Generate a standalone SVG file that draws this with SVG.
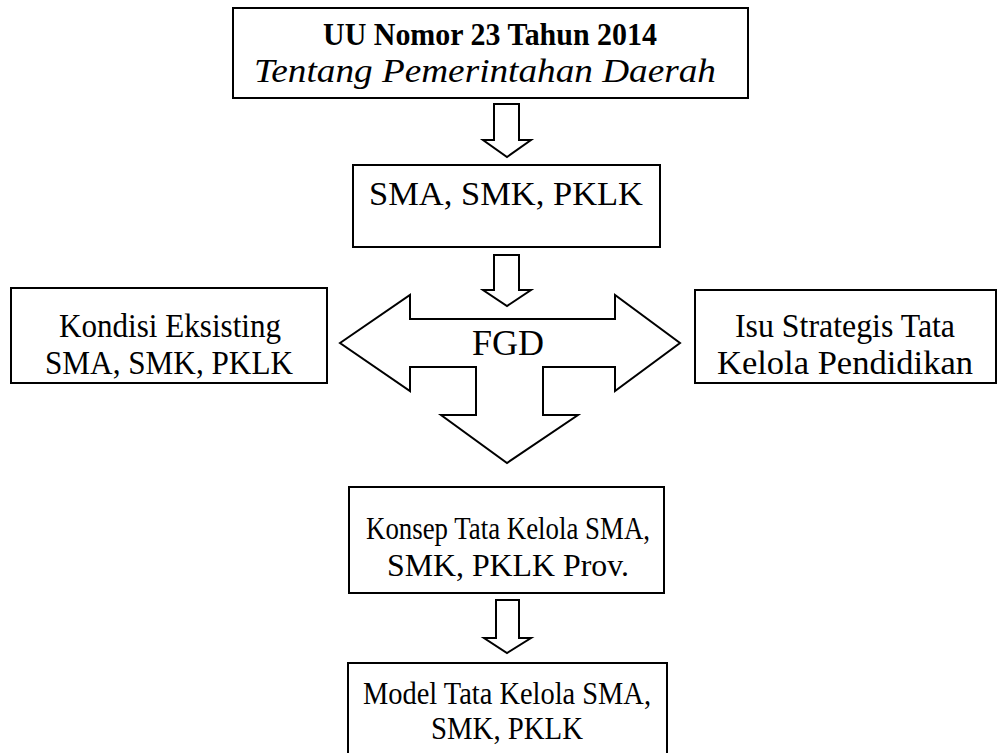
<svg xmlns="http://www.w3.org/2000/svg" width="997" height="753" viewBox="0 0 997 753">
<style>
.box{fill:#fff;stroke:#000;stroke-width:2}
.arr{fill:#fff;stroke:#000;stroke-width:2;stroke-linejoin:miter}
text{font-family:"Liberation Serif","Times New Roman",serif;fill:#000;text-anchor:middle}
.m{font-size:34px}
.s{font-size:32px}
</style>
<rect width="997" height="753" fill="#fff"/>
<g id="connectors">
<polygon class="arr" points="494,104 519,104 519,140 531,140 507,157 483,140 494,140"/>
<polygon class="arr" points="494,255 519,255 519,290 531,290 507,306 483,290 494,290"/>
<polygon class="arr" points="496,600 519,600 519,638 531,638 507,653 484,638 496,638"/>
</g>
<g id="fgd">
<polygon class="arr" points="340,343 410,295 410,319 615,319 615,295 680,343 615,391 615,367 543,367 543,415 578,415 507,463 441,415 476,415 476,367 410,367 410,391"/>
<text x="508" y="355" style="font-size:36px" textLength="72" lengthAdjust="spacingAndGlyphs">FGD</text>
</g>
<g id="uu">
<rect class="box" x="233" y="8" width="515" height="90"/>
<text x="490" y="45" style="font-size:31px;font-weight:bold" textLength="334" lengthAdjust="spacingAndGlyphs">UU Nomor 23 Tahun 2014</text>
<text x="485" y="82" style="font-size:33px;font-style:italic" textLength="462" lengthAdjust="spacingAndGlyphs">Tentang Pemerintahan Daerah</text>
</g>
<g id="sma">
<rect class="box" x="353" y="165" width="307" height="82"/>
<text x="506" y="205" style="font-size:33px" textLength="274" lengthAdjust="spacingAndGlyphs">SMA, SMK, PKLK</text>
</g>
<g id="kondisi">
<rect class="box" x="11" y="288" width="316" height="95"/>
<text class="m" x="170" y="337" textLength="222" lengthAdjust="spacingAndGlyphs">Kondisi Eksisting</text>
<text class="m" x="169" y="374" textLength="248" lengthAdjust="spacingAndGlyphs">SMA, SMK, PKLK</text>
</g>
<g id="isu">
<rect class="box" x="695" y="290" width="301" height="93"/>
<text class="m" x="845" y="337" textLength="220" lengthAdjust="spacingAndGlyphs">Isu Strategis Tata</text>
<text class="m" x="845" y="374" textLength="256" lengthAdjust="spacingAndGlyphs">Kelola Pendidikan</text>
</g>
<g id="konsep">
<rect class="box" x="349" y="487" width="315" height="106"/>
<text class="s" x="508" y="539" textLength="284" lengthAdjust="spacingAndGlyphs">Konsep Tata Kelola SMA,</text>
<text class="s" x="508" y="576" textLength="242" lengthAdjust="spacingAndGlyphs">SMK, PKLK Prov.</text>
</g>
<g id="model">
<rect class="box" x="348" y="663" width="319" height="100"/>
<text class="s" x="507" y="704" textLength="288" lengthAdjust="spacingAndGlyphs">Model Tata Kelola SMA,</text>
<text class="s" x="507" y="739" textLength="152" lengthAdjust="spacingAndGlyphs">SMK, PKLK</text>
</g>
</svg>
